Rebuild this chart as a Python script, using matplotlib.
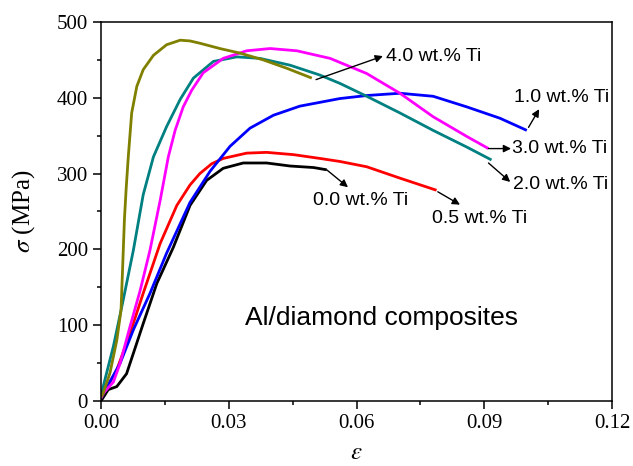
import matplotlib
matplotlib.use("Agg")
import matplotlib.pyplot as plt
from matplotlib.ticker import MultipleLocator, FormatStrFormatter

plt.rcParams['mathtext.fontset'] = 'stix'

# ---- data (strain, stress in MPa) ----
ti00_x = [0, 0.0017, 0.0037, 0.0060, 0.0076, 0.0099, 0.0131, 0.0170, 0.0209, 0.0248, 0.0287, 0.0334,
          0.0389, 0.0444, 0.0499, 0.0530]
ti00_y = [0, 15, 19, 36, 63, 102, 155, 203, 258, 291, 307, 314, 314, 310, 308, 305]

ti05_x = [0, 0.0037, 0.0068, 0.0099, 0.0139, 0.0178, 0.0209, 0.0232, 0.0260, 0.0287, 0.0342, 0.0389,
          0.0452, 0.0514, 0.0561, 0.0624, 0.0702, 0.0788]
ti05_y = [4, 41, 89, 142, 208, 258, 285, 300, 313, 320, 327, 328, 325, 320, 316, 309, 294, 278]

ti10_x = [0, 0.0045, 0.0076, 0.0115, 0.0154, 0.0209, 0.0256, 0.0303, 0.0350, 0.0405, 0.0467, 0.0561,
          0.0624, 0.0702, 0.0780, 0.0859, 0.0937, 0.1000]
ti10_y = [4, 50, 94, 142, 195, 262, 303, 336, 360, 377, 389, 399, 403, 406, 402, 388, 373, 357]

ti20_x = [0, 0.0005, 0.0029, 0.0052, 0.0076, 0.0099, 0.0123, 0.0154, 0.0186, 0.0217, 0.0264, 0.0319,
          0.0373, 0.0444, 0.0514, 0.0561, 0.0624, 0.0702, 0.0780, 0.0859, 0.0917]
ti20_y = [5, 19, 72, 133, 199, 272, 322, 362, 398, 426, 448, 454, 452, 443, 430, 419, 402, 380, 357,
          335, 318]

ti30_x = [0, 0.0005, 0.0029, 0.0045, 0.0068, 0.0092, 0.0115, 0.0139, 0.0158, 0.0174, 0.0193, 0.0213,
          0.0240, 0.0287, 0.0342, 0.0397, 0.0460, 0.0538, 0.0624, 0.0702, 0.0780, 0.0859, 0.0910]
ti30_y = [4, 10, 25, 50, 98, 146, 199, 265, 322, 357, 388, 410, 433, 452, 462, 465, 462, 452, 432,
          406, 375, 349, 333]

ti40_x = [0, 0.0005, 0.0021, 0.0037, 0.0047, 0.0051, 0.0055, 0.0059, 0.0064, 0.0072, 0.0084, 0.0099,
          0.0123, 0.0154, 0.0186, 0.0209, 0.0232, 0.0279, 0.0326, 0.0381, 0.0436, 0.0495]
ti40_y = [5, 10, 37, 80, 120, 180, 240, 280, 322, 380, 415, 437, 456, 470, 476, 475, 472, 465, 459,
          450, 439, 426]

labels = ["0.0 wt.% Ti", "0.5 wt.% Ti", "1.0 wt.% Ti", "2.0 wt.% Ti", "3.0 wt.% Ti", "4.0 wt.% Ti"]
colors = ["#000000", "#FF0000", "#0000FF", "#008080", "#FF00FF", "#808000"]

fig = plt.figure(figsize=(6.33, 4.66), dpi=100)
ax = fig.add_axes([0.1596, 0.1395, 0.8072, 0.8133])

series = [(ti00_x, ti00_y), (ti05_x, ti05_y), (ti10_x, ti10_y),
          (ti20_x, ti20_y), (ti30_x, ti30_y), (ti40_x, ti40_y)]
for (xs, ys), c in zip(series, colors):
    ax.plot(xs, ys, color=c, lw=2.0, solid_capstyle='butt', solid_joinstyle='round')

ax.set_xlim(0, 0.12)
ax.set_ylim(0, 500)
ax.xaxis.set_major_locator(MultipleLocator(0.03))
ax.xaxis.set_minor_locator(MultipleLocator(0.015))
ax.yaxis.set_major_locator(MultipleLocator(100))
ax.yaxis.set_minor_locator(MultipleLocator(50))
ax.xaxis.set_major_formatter(FormatStrFormatter('%.2f'))
ax.tick_params(which='both', direction='out', top=False, right=False, width=1.1)
ax.tick_params(which='major', length=5.5, pad=4)
ax.tick_params(which='minor', length=3)
for sp in ax.spines.values():
    sp.set_linewidth(1.1)
for lab in ax.get_xticklabels() + ax.get_yticklabels():
    lab.set_fontfamily('Liberation Serif')
    lab.set_fontsize(15)

ax.set_xlabel(r'$\varepsilon$', fontsize=18, labelpad=5)
ax.set_ylabel(r'$\sigma$ (MPa)', fontsize=18, family='Liberation Serif', labelpad=14)

# annotations: arrow (tail, head) and text position
ann = [
    ("0.0 wt.% Ti", (0.0530, 305), (0.0580, 282), (0.0498, 265)),
    ("0.5 wt.% Ti", (0.0791, 276), (0.0843, 259), (0.0777, 241)),
    ("1.0 wt.% Ti", (0.1004, 361), (0.1029, 385), (0.0969, 400)),
    ("2.0 wt.% Ti", (0.0910, 314), (0.0961, 289), (0.0968, 285)),
    ("3.0 wt.% Ti", (0.0910, 333), (0.0963, 333), (0.0966, 333)),
    ("4.0 wt.% Ti", (0.0505, 424), (0.0662, 455), (0.0670, 455)),
]
for txt, tail, head, tpos in ann:
    ax.annotate('', xy=head, xytext=tail,
                arrowprops=dict(arrowstyle='-|>', color='black', lw=1.0,
                                mutation_scale=11, shrinkA=0, shrinkB=0))
    ax.text(tpos[0], tpos[1], txt, fontsize=14, family='Liberation Sans',
            ha='left', va='center')

ax.text(0.0338, 109, "Al/diamond composites", fontsize=19, family='Liberation Sans',
        ha='left', va='center')

fig.savefig("out.png", dpi=100)
